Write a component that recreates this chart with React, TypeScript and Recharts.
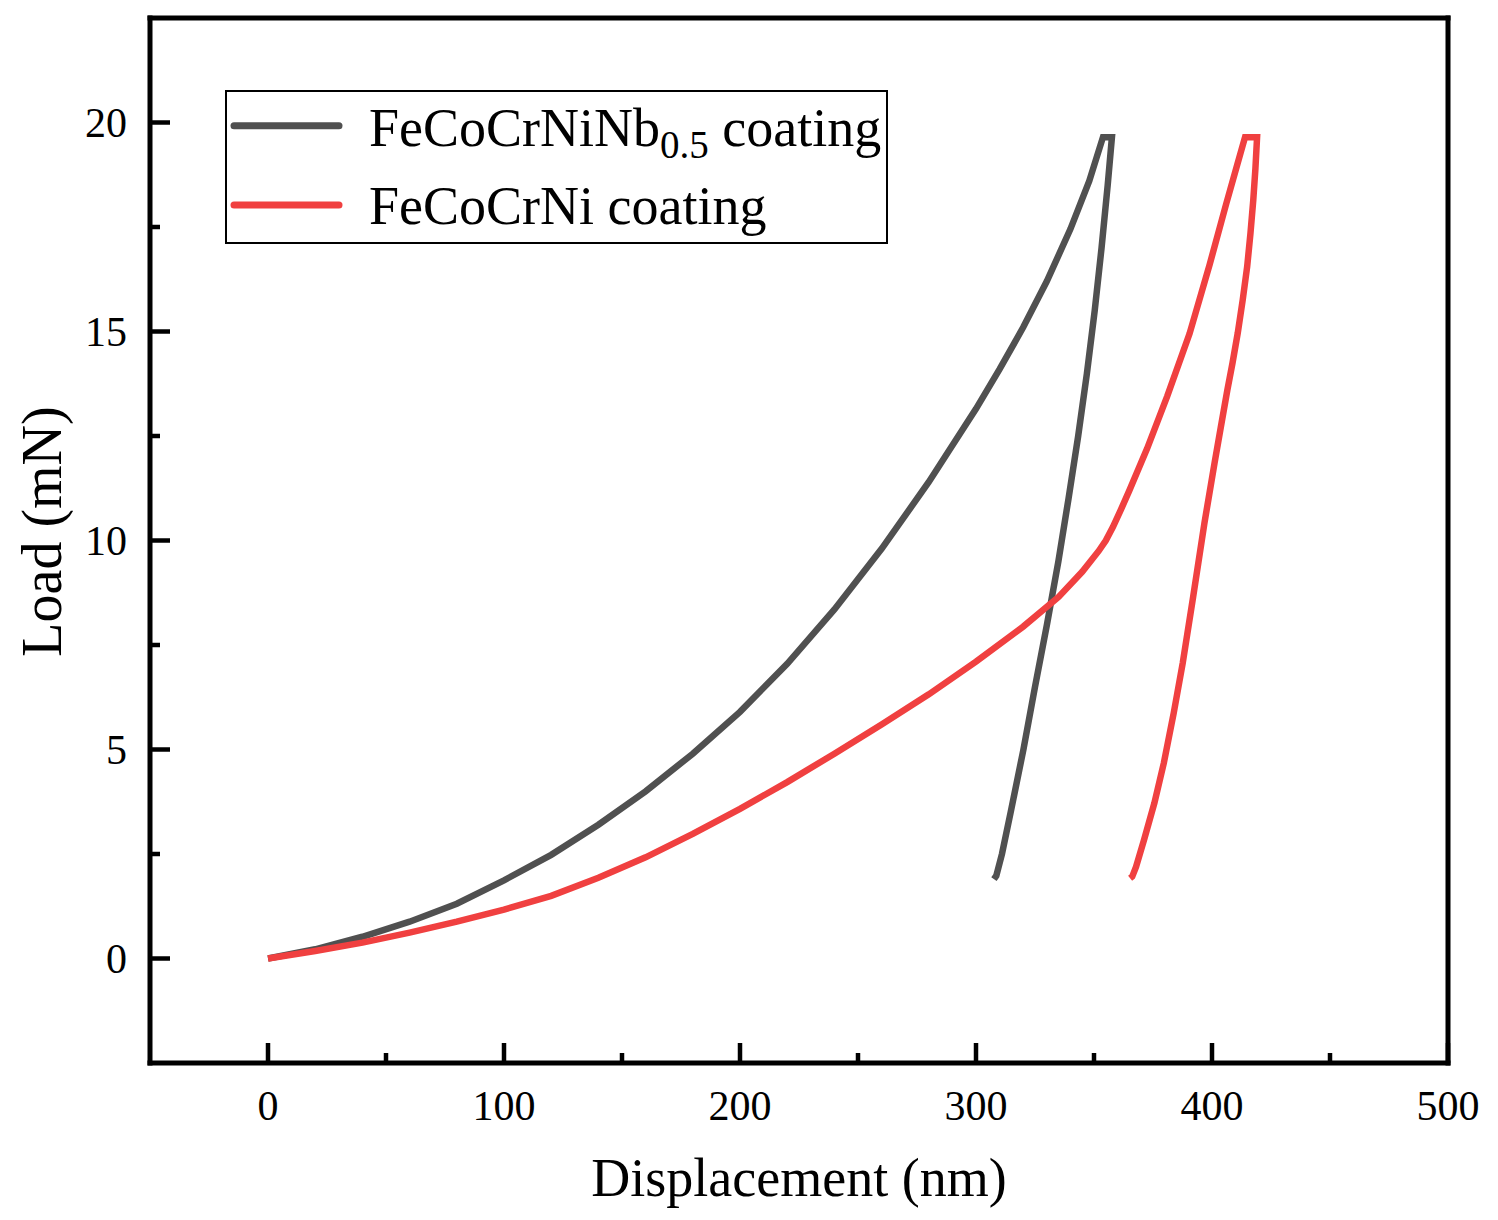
import React from 'react';
import { LineChart, Line, XAxis, YAxis, Legend } from 'recharts';

const FONT = '"Liberation Serif", "Times New Roman", serif';

// axis ticks
const xMajorTicks = [0, 100, 200, 300, 400, 500];
const xMinorTicks = [50, 150, 250, 350, 450];
const yMajorTicks = [0, 5, 10, 15, 20];
const yMinorTicks = [2.5, 7.5, 12.5, 17.5];

// FeCoCrNiNb0.5 coating: loading, hold, unloading (displacement nm / load mN)
const nbX = [
  0, 20, 40, 60, 80, 100, 120, 140, 160, 180, 200, 220, 240, 260, 280, 300, 310, 320, 330, 340, 348, 353.8,
  357.6,
  355.8, 353.2, 350.3, 347.0, 343.3, 339.2, 334.9, 330.1, 325.0, 320.1, 314.7, 311.0, 308.6, 307.6,
];
const nbY = [
  0, 0.22, 0.52, 0.88, 1.31, 1.87, 2.48, 3.2, 4.0, 4.9, 5.9, 7.05, 8.35, 9.8, 11.4, 13.15, 14.1, 15.1, 16.2, 17.45, 18.6, 19.65,
  19.65,
  18.5, 17.0, 15.5, 14.0, 12.5, 11.0, 9.5, 8.0, 6.5, 5.0, 3.5, 2.5, 1.98, 1.9,
];

// FeCoCrNi coating
const niX = [
  0, 20, 40, 60, 80, 100, 120, 140, 160, 180, 200, 220, 240, 260, 280, 300, 320, 335, 345, 352, 355, 358, 361.5,
  365, 372.5, 381, 390.5, 399, 406, 410.5, 414,
  419.1,
  418.4, 417.5, 416.3, 414.9, 413.0, 410.9, 408.7, 406.5, 403.7, 401.1, 396.8, 392.0, 387.6, 383.8, 379.6, 375.6, 371.2, 367.8, 366.2, 365.3,
];
const niY = [
  0, 0.18, 0.38, 0.62, 0.88, 1.17, 1.5, 1.93, 2.42, 2.98, 3.58, 4.22, 4.9, 5.6, 6.32, 7.1, 7.94, 8.65, 9.25, 9.75, 10.0, 10.32, 10.75,
  11.2, 12.2, 13.45, 14.95, 16.6, 18.05, 18.95, 19.65,
  19.65,
  18.9, 18.15, 17.35, 16.55, 15.75, 14.96, 14.25, 13.6, 12.7, 11.86, 10.42, 8.65, 7.07, 5.88, 4.68, 3.72, 2.84, 2.19, 1.96, 1.92,
];

const seriesBase = ['FeCoCrNiNb', 'FeCoCrNi'];
const seriesSub = ['0.5', ''];
const seriesTail = [' coating', ' coating'];
const seriesColors = ['#505050', '#f04040'];

const nbData = nbX.map((x, i) => ({ x, y: nbY[i] }));
const niData = niX.map((x, i) => ({ x, y: niY[i] }));

const axisStyle = { stroke: '#000', strokeWidth: 5, strokeLinecap: 'square' as const };

function XTick(props: any) {
  const { x, y, payload } = props;
  const major = xMajorTicks.includes(payload.value);
  return (
    <g>
      <line x1={x} x2={x} y1={y} y2={y - (major ? 20 : 10)} stroke="#000" strokeWidth={4.5} />
      {major && (
        <text x={x} y={y + 57} textAnchor="middle" fontFamily={FONT} fontSize={42} fill="#000">
          {payload.value}
        </text>
      )}
    </g>
  );
}

function YTick(props: any) {
  const { x, y, payload } = props;
  const major = yMajorTicks.includes(payload.value);
  return (
    <g>
      <line x1={x} x2={x + (major ? 20 : 10)} y1={y} y2={y} stroke="#000" strokeWidth={4.5} />
      {major && (
        <text x={x - 23} y={y + 14} textAnchor="end" fontFamily={FONT} fontSize={42} fill="#000">
          {payload.value}
        </text>
      )}
    </g>
  );
}

function XTitle(props: any) {
  const vb = props.viewBox || { x: 150, y: 1063, width: 1298 };
  return (
    <text x={vb.x + vb.width / 2} y={vb.y + 133} textAnchor="middle" fontFamily={FONT} fontSize={54} fill="#000">
      Displacement (nm)
    </text>
  );
}

function YTitle(props: any) {
  const vb = props.viewBox || { x: 0, y: 18, height: 1045 };
  const cx = 61;
  const cy = vb.y + vb.height / 2 - 9;
  return (
    <text
      x={cx}
      y={cy}
      transform={`rotate(-90, ${cx}, ${cy})`}
      textAnchor="middle"
      fontFamily={FONT}
      fontSize={56}
      fill="#000"
    >
      Load (mN)
    </text>
  );
}

function LegendBox() {
  return (
    <svg width={663} height={154} style={{ display: 'block' }}>
      <rect x={1} y={1} width={661} height={152} fill="#fff" stroke="#000" strokeWidth={2} />
      {seriesBase.map((base, i) => (
        <g key={base}>
          <line
            x1={9}
            x2={114}
            y1={35.7 + i * 79.3}
            y2={35.7 + i * 79.3}
            stroke={seriesColors[i]}
            strokeWidth={7}
            strokeLinecap="round"
          />
          <text x={144} y={56 + i * 78} fontFamily={FONT} fontSize={54} fill="#000" style={{ whiteSpace: 'pre' }}>
            {base}
            {seriesSub[i] && (
              <tspan fontSize={39} dy={12}>
                {seriesSub[i]}
              </tspan>
            )}
            <tspan dy={seriesSub[i] ? -12 : 0}>{seriesTail[i]}</tspan>
          </text>
        </g>
      ))}
    </svg>
  );
}

export default function App() {
  return (
    <div style={{ width: 1498, height: 1220, background: '#fff' }}>
      <style>{'body{margin:0;}'}</style>
      <LineChart width={1498} height={1220} margin={{ top: 17, right: 49, bottom: 0, left: 0 }}>
        <XAxis
          xAxisId="b"
          type="number"
          dataKey="x"
          domain={[-50, 500]}
          ticks={[...xMajorTicks, ...xMinorTicks].sort((a, b) => a - b)}
          interval={0}
          tick={(p: any) => <XTick {...p} />}
          tickLine={false}
          tickSize={0}
          tickMargin={0}
          axisLine={axisStyle}
          height={157}
          label={{ content: (p: any) => <XTitle {...p} /> }}
        />
        <XAxis
          xAxisId="t"
          orientation="top"
          type="number"
          dataKey="x"
          domain={[-50, 500]}
          height={1}
          tick={false}
          tickLine={false}
          axisLine={axisStyle}
        />
        <YAxis
          yAxisId="l"
          type="number"
          domain={[-2.5, 22.5]}
          ticks={[...yMajorTicks, ...yMinorTicks].sort((a, b) => a - b)}
          interval={0}
          tick={(p: any) => <YTick {...p} />}
          tickLine={false}
          tickSize={0}
          tickMargin={0}
          axisLine={axisStyle}
          width={150}
          label={{ content: (p: any) => <YTitle {...p} /> }}
        />
        <YAxis
          yAxisId="r"
          orientation="right"
          type="number"
          domain={[-2.5, 22.5]}
          width={1}
          tick={false}
          tickLine={false}
          axisLine={axisStyle}
        />
        <Legend
          content={() => <LegendBox />}
          layout="horizontal"
          verticalAlign="middle"
          align="center"
          wrapperStyle={{ left: 225, top: 90, width: 663, height: 154, lineHeight: 0 }}
        />
        <Line
          xAxisId="b"
          yAxisId="l"
          data={nbData}
          dataKey="y"
          name="FeCoCrNiNb0.5 coating"
          type="linear"
          stroke={seriesColors[0]}
          strokeWidth={6.5}
          dot={false}
          activeDot={false}
          isAnimationActive={false}
        />
        <Line
          xAxisId="b"
          yAxisId="l"
          data={niData}
          dataKey="y"
          name="FeCoCrNi coating"
          type="linear"
          stroke={seriesColors[1]}
          strokeWidth={6.5}
          dot={false}
          activeDot={false}
          isAnimationActive={false}
        />
      </LineChart>
    </div>
  );
}
